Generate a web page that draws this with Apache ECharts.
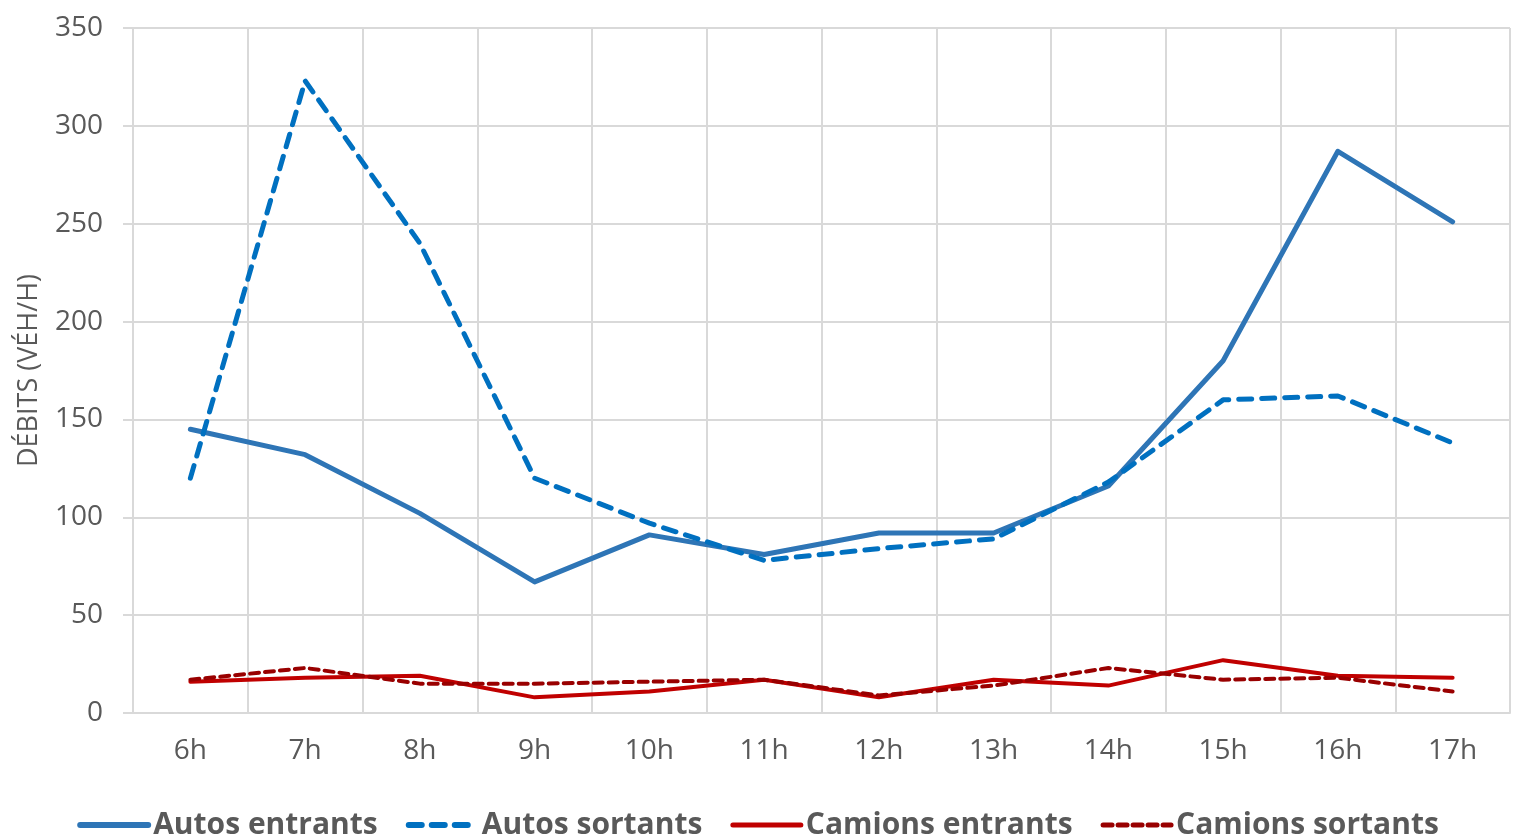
<!DOCTYPE html>
<html>
<head>
<meta charset="utf-8">
<script src="https://cdn.jsdelivr.net/npm/echarts@6/dist/echarts.min.js"></script>
<style>
html,body{margin:0;padding:0;background:#fff;}
#c{width:1516px;height:839px;}
</style>
</head>
<body>
<div id="c"></div>
<script>
const categories = ['6h','7h','8h','9h','10h','11h','12h','13h','14h','15h','16h','17h'];
const autosEntrants = [145,132,102,67,91,81,92,92,116,180,287,251];
const autosSortants = [120,323,240,120,97,78,84,89,118,160,162,138];
const camionsEntrants = [16,18,19,8,11,17,8,17,14,27,19,18];
const camionsSortants = [17,23,15,15,16,17,9,14,23,17,18,11];
const yTicks = {min:0, max:350, interval:50};

const FONT = '"Open Sans","Noto Sans",sans-serif';
const chart = echarts.init(document.getElementById('c'));
const styles = {
  'Autos entrants':   {color:'#2E75B6', width:5, type:'solid'},
  'Autos sortants':   {color:'#0070C0', width:5, type:[13,10]},
  'Camions entrants': {color:'#C00000', width:4, type:'solid'},
  'Camions sortants': {color:'#990000', width:4, type:[9,6]}
};
function line(name, data){
  const s = styles[name];
  return {
    name, type:'line', data, showSymbol:false, symbol:'none',
    lineStyle:{color:s.color, width:s.width, type:s.type, cap:'round', join:'round'},
    itemStyle:{color:s.color},
    animation:false
  };
}
const names = ['Autos entrants','Autos sortants','Camions entrants','Camions sortants'];
chart.setOption({
  animation:false,
  grid:{left:133, right:6, top:28, bottom:126, containLabel:false},
  legend:{
    bottom:-6, left:'center',
    itemWidth:68, itemHeight:14, itemGap:28,
    itemStyle:{opacity:0},
    textStyle:{fontFamily:FONT, fontSize:30, fontWeight:'bold', color:'#595959'},
    data:names.map(n => ({
      name:n,
      itemStyle:{opacity:0},
      lineStyle:{color:styles[n].color, width:styles[n].width+1, type:styles[n].type, cap:'round', opacity:1}
    }))
  },
  xAxis:{
    type:'category', data:categories, boundaryGap:true,
    axisLine:{show:true, lineStyle:{color:'#d9d9d9', width:2}},
    axisTick:{show:false},
    splitLine:{show:true, lineStyle:{color:'#d9d9d9', width:2}},
    axisLabel:{fontFamily:FONT, fontSize:28, color:'#595959', margin:24}
  },
  yAxis:{
    type:'value', min:yTicks.min, max:yTicks.max, interval:yTicks.interval,
    name:'DÉBITS (VÉH/H)', nameLocation:'middle', nameGap:90, nameRotate:90,
    nameTextStyle:{fontFamily:FONT, fontSize:27, color:'#595959'},
    axisLine:{show:true, lineStyle:{color:'#d9d9d9', width:2}},
    axisTick:{show:true, length:10, lineStyle:{color:'#d9d9d9', width:2}},
    splitLine:{show:true, lineStyle:{color:'#d9d9d9', width:2}},
    axisLabel:{fontFamily:FONT, fontSize:28, color:'#595959', margin:30}
  },
  series:names.map((n,i) => line(n, [autosEntrants,autosSortants,camionsEntrants,camionsSortants][i]))
});
</script>
</body>
</html>
